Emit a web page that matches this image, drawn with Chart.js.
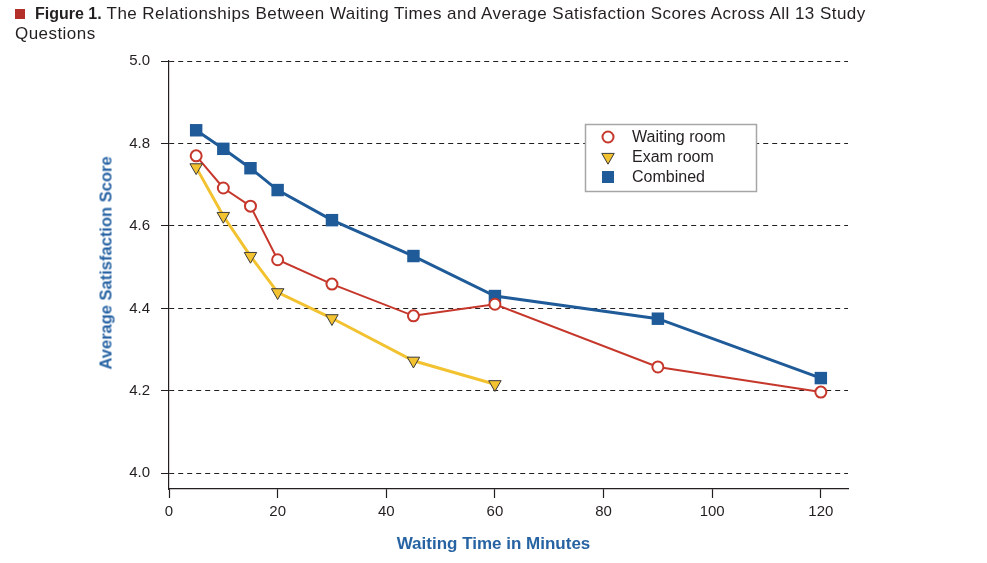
<!DOCTYPE html>
<html>
<head>
<meta charset="utf-8">
<script src="https://cdn.jsdelivr.net/npm/chart.js@4.4.1/dist/chart.umd.min.js"></script>
<style>
  html, body { margin:0; padding:0; background:#fff; }
  #wrap { position:relative; width:987px; height:563px; overflow:hidden; font-family:"Liberation Sans", Arial, Helvetica, sans-serif; }
  #chart { position:absolute; left:0; top:0; }
  #title { position:absolute; left:15px; top:4px; font-size:17px; line-height:20px; letter-spacing:0.45px; color:#231f20; white-space:nowrap; }
  #title b { font-size:16px; letter-spacing:0; }
  #title .sq { display:inline-block; width:10px; height:10px; background:#b3302a; margin-right:10px; vertical-align:0px; }
  #xtitle { position:absolute; left:0; width:987px; top:534px; text-align:center; font-size:17px; font-weight:bold; color:#2763a3; }
  #ytitle { position:absolute; left:106px; top:263px; font-size:16.5px; font-weight:bold; color:#2763a3; white-space:nowrap; transform:translate(-50%,-50%) rotate(-90deg); }
</style>
</head>
<body>
<div id="wrap">
  <canvas id="chart" width="987" height="563"></canvas>
  <div id="title"><span class="sq"></span><b>Figure 1.</b> The Relationships Between Waiting Times and Average Satisfaction Scores Across All 13 Study<br>Questions</div>
  <div id="xtitle">Waiting Time in Minutes</div>
  <div id="ytitle">Average Satisfaction Score</div>
</div>
<script>
const minutes = [5, 10, 15, 20, 30, 45, 60, 90, 120];
const examMinutes = [5, 10, 15, 20, 30, 45, 60];
const waitingRoom = [4.770, 4.692, 4.648, 4.518, 4.459, 4.382, 4.410, 4.258, 4.197];
const examRoom = [4.742, 4.624, 4.527, 4.439, 4.376, 4.273, 4.216];
const combined = [4.832, 4.787, 4.740, 4.687, 4.614, 4.527, 4.430, 4.375, 4.231];
const xTicks = [0, 20, 40, 60, 80, 100, 120];
const yTicks = [4.0, 4.2, 4.4, 4.6, 4.8, 5.0];
const seriesNames = ["Waiting room", "Exam room", "Combined"];

const pts = (xs, ys) => xs.map((x, i) => ({x: x, y: ys[i]}));

const BLUE = "#1f5b98", RED = "#c6372b", YEL = "#f2c230";
const FONT = "'Liberation Sans', Arial, sans-serif";

const datasets = [
  { label: seriesNames[0], data: pts(minutes, waitingRoom), borderColor: RED, borderWidth: 2,
    pointStyle: "circle", pointRadius: 5.5, pointBackgroundColor: "#ffffff", pointBorderColor: RED, pointBorderWidth: 2, order: 1 },
  { label: seriesNames[1], data: pts(examMinutes, examRoom), borderColor: YEL, borderWidth: 3,
    pointStyle: "triangle", rotation: 180, pointRadius: 7.2, pointBackgroundColor: YEL, pointBorderColor: "#3a3a3a", pointBorderWidth: 1, order: 0 },
  { label: seriesNames[2], data: pts(minutes, combined), borderColor: BLUE, borderWidth: 3,
    pointStyle: "rect", pointRadius: 8.8, pointBackgroundColor: BLUE, pointBorderColor: BLUE, pointBorderWidth: 0, order: 2 }
];

const legendBox = {
  id: "legendBox",
  afterDraw(chart) {
    const ctx = chart.ctx;
    ctx.save();
    ctx.strokeStyle = "#a6a6a6";
    ctx.lineWidth = 1.5;
    ctx.fillStyle = "#ffffff";
    ctx.fillRect(585, 124, 172, 68);
    ctx.strokeRect(585.5, 124.5, 171, 67);
    const rows = [137, 157, 177];
    chart.data.datasets.forEach((ds, i) => {
      const y = rows[i], x = 608;
      ctx.beginPath();
      if (ds.pointStyle === "circle") {
        ctx.arc(x, y, 5.5, 0, Math.PI * 2);
        ctx.fillStyle = "#fff"; ctx.fill();
        ctx.lineWidth = 2; ctx.strokeStyle = ds.pointBorderColor; ctx.stroke();
      } else if (ds.pointStyle === "triangle") {
        const r = 7.2;
        ctx.moveTo(x, y + r);
        ctx.lineTo(x - r * Math.sin(Math.PI / 3), y - r / 2);
        ctx.lineTo(x + r * Math.sin(Math.PI / 3), y - r / 2);
        ctx.closePath();
        ctx.fillStyle = ds.pointBackgroundColor; ctx.fill();
        ctx.lineWidth = 1; ctx.strokeStyle = ds.pointBorderColor; ctx.stroke();
      } else {
        ctx.fillStyle = ds.pointBackgroundColor;
        ctx.fillRect(x - 6, y - 6, 12, 12);
      }
      ctx.fillStyle = "#231f20";
      ctx.font = "16px " + FONT;
      ctx.textBaseline = "middle";
      ctx.textAlign = "left";
      ctx.fillText(ds.label, 632, y + 1);
    });
    ctx.restore();
  }
};

new Chart(document.getElementById("chart"), {
  type: "line",
  data: { datasets: datasets },
  options: {
    responsive: false,
    animation: false,
    layout: { padding: { top: 61, right: 139, left: 0, bottom: 0 } },
    plugins: { legend: { display: false }, tooltip: { enabled: false } },
    elements: { line: { tension: 0 } },
    scales: {
      x: {
        type: "linear", min: 0, max: 125,
        afterFit(s) { s.height = 74; },
        afterBuildTicks(s) { s.ticks = xTicks.map(v => ({value: v})); },
        grid: { drawOnChartArea: false, drawTicks: true, tickLength: 9, tickColor: "#231f20", tickWidth: 1.2 },
        border: { display: true, color: "#231f20", width: 1.2 },
        ticks: { color: "#231f20", font: { size: 15, family: FONT }, padding: 5, maxRotation: 0 }
      },
      y: {
        type: "linear", min: 3.962, max: 5.0,
        afterFit(s) { s.width = 169; },
        afterBuildTicks(s) { s.ticks = yTicks.map(v => ({value: v})); },
        grid: { color: "#231f20", lineWidth: 1, drawTicks: true, tickLength: 8, tickColor: "#231f20", tickWidth: 1, tickBorderDash: [] },
        border: { display: true, color: "#231f20", width: 1.2, dash: [5, 4] },
        ticks: { color: "#231f20", font: { size: 15, family: FONT }, padding: 11,
                 callback: v => v.toFixed(1) }
      }
    }
  },
  plugins: [legendBox]
});
</script>
</body>
</html>
